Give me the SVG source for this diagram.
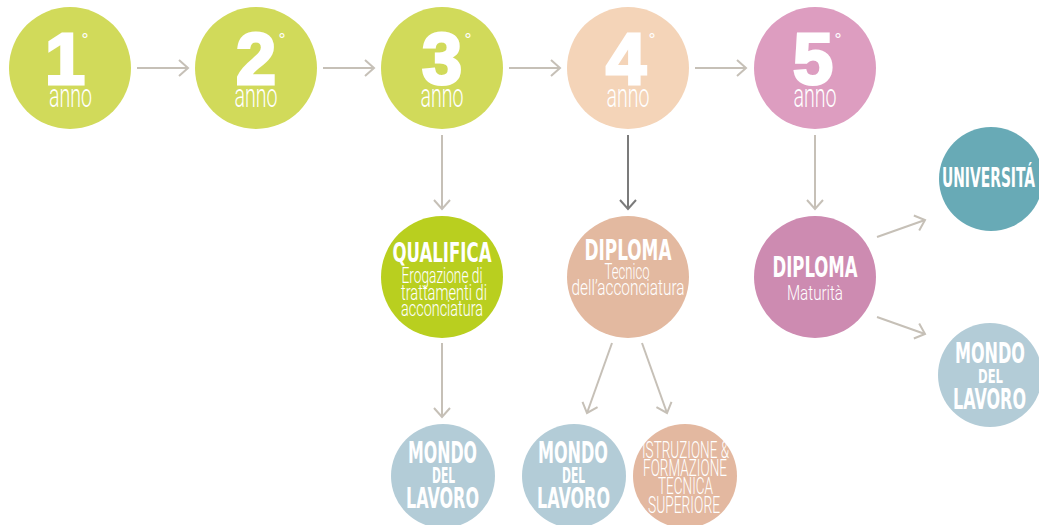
<svg xmlns="http://www.w3.org/2000/svg" width="1039" height="525" viewBox="0 0 1039 525">
<style>
.dg{font-family:"Liberation Sans",Arial,sans-serif;font-weight:bold;font-size:72px;fill:#fff;stroke:#fff;stroke-width:3;stroke-linejoin:miter;text-anchor:middle}
.deg{font-family:"DejaVu Sans",sans-serif;font-size:16px;fill:#fff;text-anchor:middle}
.an{font-family:Roboto,"DejaVu Sans Condensed",sans-serif;font-size:34px;fill:#fff;text-anchor:middle;font-weight:300}
.tb{font-family:"DejaVu Sans Condensed","DejaVu Sans",sans-serif;font-weight:bold;fill:#fff;text-anchor:middle}
.tl{font-family:Roboto,"DejaVu Sans Condensed",sans-serif;font-weight:300;fill:#fff;text-anchor:middle}
.ar{fill:none;stroke:#c6c0b7;stroke-width:2}
.ard{fill:none;stroke:#7b7b7b;stroke-width:2}
</style>
<defs>
<marker id="h" viewBox="-11 -10 13 20" markerWidth="13" markerHeight="20" refX="0" refY="0" orient="auto" markerUnits="userSpaceOnUse">
<path d="M-9,-8 L0,0 L-9,8" fill="none" stroke="#c6c0b7" stroke-width="2"/>
</marker>
<marker id="hd" viewBox="-11 -10 13 20" markerWidth="13" markerHeight="20" refX="0" refY="0" orient="auto" markerUnits="userSpaceOnUse">
<path d="M-9,-8 L0,0 L-9,8" fill="none" stroke="#7b7b7b" stroke-width="2"/>
</marker>
</defs>
<g id="connectors">
<line class="ar" x1="137" y1="68" x2="188" y2="68" marker-end="url(#h)"/>
<line class="ar" x1="323" y1="68" x2="374" y2="68" marker-end="url(#h)"/>
<line class="ar" x1="509" y1="68" x2="560" y2="68" marker-end="url(#h)"/>
<line class="ar" x1="695" y1="68" x2="746" y2="68" marker-end="url(#h)"/>
<line class="ar" x1="442" y1="135" x2="442" y2="209" marker-end="url(#h)"/>
<line class="ard" x1="628" y1="135" x2="628" y2="209" marker-end="url(#hd)"/>
<line class="ar" x1="815" y1="135" x2="815" y2="209" marker-end="url(#h)"/>
<line class="ar" x1="877" y1="237" x2="925" y2="220" marker-end="url(#h)"/>
<line class="ar" x1="877" y1="317" x2="925" y2="334" marker-end="url(#h)"/>
<line class="ar" x1="442" y1="343" x2="442" y2="417" marker-end="url(#h)"/>
<line class="ar" x1="612" y1="343" x2="587" y2="413" marker-end="url(#h)"/>
<line class="ar" x1="642" y1="343" x2="667" y2="413" marker-end="url(#h)"/>
</g>
<g id="anno1">
<circle cx="70" cy="68" r="61" fill="#d1da5a"/>
<text class="dg" x="65" y="84">1</text>
<text class="deg" x="85" y="45">°</text>
<text class="an" x="70.5" y="107" textLength="43" lengthAdjust="spacingAndGlyphs">anno</text>
</g>
<g id="anno2">
<circle cx="256" cy="68" r="61" fill="#d1da5a"/>
<text class="dg" x="256" y="84">2</text>
<text class="deg" x="282" y="45">°</text>
<text class="an" x="256" y="107" textLength="43" lengthAdjust="spacingAndGlyphs">anno</text>
</g>
<g id="anno3">
<circle cx="442" cy="68" r="61" fill="#d1da5a"/>
<text class="dg" x="442" y="84">3</text>
<text class="deg" x="468" y="45">°</text>
<text class="an" x="442" y="107" textLength="43" lengthAdjust="spacingAndGlyphs">anno</text>
</g>
<g id="anno4">
<circle cx="628" cy="68" r="61" fill="#f4d4b8"/>
<text class="dg" x="626" y="84">4</text>
<text class="deg" x="652" y="45">°</text>
<text class="an" x="628" y="107" textLength="43" lengthAdjust="spacingAndGlyphs">anno</text>
</g>
<g id="anno5">
<circle cx="815" cy="68" r="61" fill="#dd9dc0"/>
<text class="dg" x="813" y="84">5</text>
<text class="deg" x="838" y="45">°</text>
<text class="an" x="815" y="107" textLength="43" lengthAdjust="spacingAndGlyphs">anno</text>
</g>
<g id="qualifica">
<circle cx="442" cy="277" r="61" fill="#b9cf1f"/>
<text class="tb" x="442" y="262" font-size="27" textLength="99" lengthAdjust="spacingAndGlyphs">QUALIFICA</text>
<text class="tl" x="442" y="283" font-size="22" textLength="81" lengthAdjust="spacingAndGlyphs">Erogazione di</text>
<text class="tl" x="444" y="300" font-size="22" textLength="86" lengthAdjust="spacingAndGlyphs">trattamenti di</text>
<text class="tl" x="442" y="316" font-size="22" textLength="82" lengthAdjust="spacingAndGlyphs">acconciatura</text>
</g>
<g id="diploma-tecnico">
<circle cx="628" cy="277" r="61" fill="#e3b9a0"/>
<text class="tb" x="628" y="260" font-size="29" textLength="87" lengthAdjust="spacingAndGlyphs">DIPLOMA</text>
<text class="tl" x="627" y="279" font-size="22" textLength="45" lengthAdjust="spacingAndGlyphs">Tecnico</text>
<text class="tl" x="628" y="295" font-size="22" textLength="113" lengthAdjust="spacingAndGlyphs">dell’acconciatura</text>
</g>
<g id="diploma-maturita">
<circle cx="815" cy="277" r="61" fill="#cd8bb1"/>
<text class="tb" x="815" y="277" font-size="29" textLength="85" lengthAdjust="spacingAndGlyphs">DIPLOMA</text>
<text class="tl" x="815" y="300" font-size="20" textLength="56" lengthAdjust="spacingAndGlyphs">Maturità</text>
</g>
<g id="universita">
<circle cx="991" cy="179" r="52" fill="#68aab6"/>
<text class="tb" x="988.5" y="187" font-size="26" textLength="93" lengthAdjust="spacingAndGlyphs">UNIVERSITÁ</text>
</g>
<g id="mondo-right">
<circle cx="990" cy="375" r="52" fill="#b3ccd7"/>
<text class="tb" x="990" y="363" font-size="29" textLength="70" lengthAdjust="spacingAndGlyphs">MONDO</text>
<text class="tb" x="990.5" y="383" font-size="20" textLength="25" lengthAdjust="spacingAndGlyphs">DEL</text>
<text class="tb" x="989.5" y="409" font-size="29" textLength="73" lengthAdjust="spacingAndGlyphs">LAVORO</text>
</g>
<g id="mondo-qualifica">
<circle cx="443" cy="476" r="52" fill="#b3ccd7"/>
<text class="tb" x="442.5" y="463" font-size="30" textLength="69" lengthAdjust="spacingAndGlyphs">MONDO</text>
<text class="tb" x="443.5" y="483" font-size="21" textLength="23" lengthAdjust="spacingAndGlyphs">DEL</text>
<text class="tb" x="442.5" y="508" font-size="29" textLength="73" lengthAdjust="spacingAndGlyphs">LAVORO</text>
</g>
<g id="mondo-diploma">
<circle cx="574" cy="476" r="52" fill="#b3ccd7"/>
<text class="tb" x="573" y="463" font-size="30" textLength="70" lengthAdjust="spacingAndGlyphs">MONDO</text>
<text class="tb" x="573.5" y="483" font-size="21" textLength="23" lengthAdjust="spacingAndGlyphs">DEL</text>
<text class="tb" x="573.5" y="508" font-size="29" textLength="73" lengthAdjust="spacingAndGlyphs">LAVORO</text>
</g>
<g id="istruzione">
<circle cx="685" cy="476" r="52" fill="#e3b8a0"/>
<text class="tl" x="685.5" y="458" font-size="24" textLength="87" lengthAdjust="spacingAndGlyphs">ISTRUZIONE &amp;</text>
<text class="tl" x="685" y="476" font-size="24" textLength="84" lengthAdjust="spacingAndGlyphs">FORMAZIONE</text>
<text class="tl" x="685.5" y="494" font-size="24" textLength="55" lengthAdjust="spacingAndGlyphs">TECNICA</text>
<text class="tl" x="684" y="513" font-size="24" textLength="72" lengthAdjust="spacingAndGlyphs">SUPERIORE</text>
</g>
</svg>
